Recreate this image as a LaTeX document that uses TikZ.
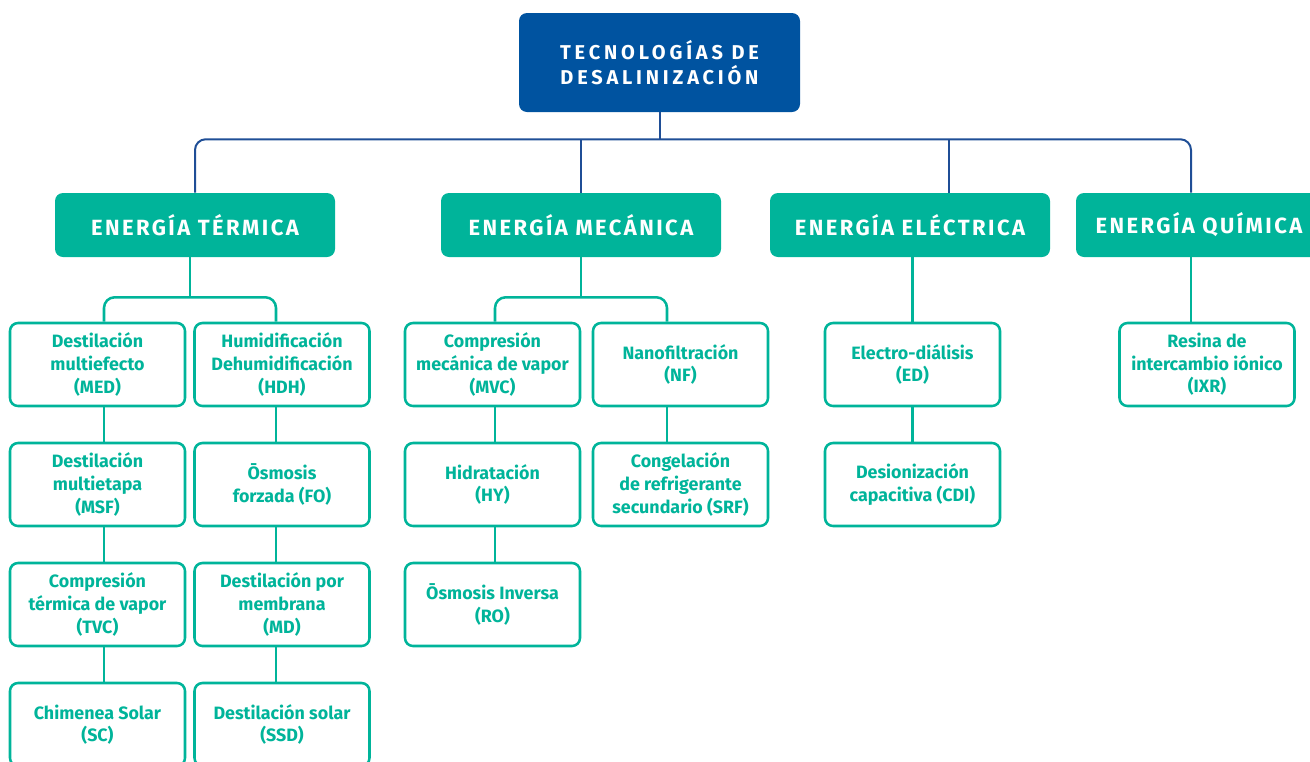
\documentclass[tikz,border=0pt]{standalone}
\usepackage{fontspec}
\setmainfont{Fira Sans}
\usetikzlibrary{calc}

\definecolor{deepblue}{HTML}{0053A0}
\definecolor{busblue}{HTML}{1F4E96}
\definecolor{seagreen}{HTML}{00B49A}

\tikzset{
  rootbox/.style={fill=deepblue, rounded corners=6pt, minimum width=210.75pt, minimum height=74.25pt,
    text=white, align=center, font=\bfseries\fontsize{15}{18.5}\selectfont\addfontfeatures{LetterSpace=19}},
  energybox/.style={fill=seagreen, rounded corners=6pt, minimum width=210pt, minimum height=48pt,
    text=white, font=\bfseries\fontsize{16.5}{18}\selectfont\addfontfeatures{LetterSpace=11}},
  techbox/.style={draw=seagreen, line width=1.9pt, fill=white, rounded corners=6pt,
    minimum width=131.25pt, minimum height=62.25pt, inner sep=2pt,
    text=seagreen, align=center, font=\bfseries\fontsize{13.4}{17}\selectfont},
  busline/.style={draw=busblue, line width=1.5pt},
  branch/.style={draw=seagreen, line width=1.9pt}
}

\begin{document}
\begin{tikzpicture}[x=0.75pt, y=-0.75pt]
\useasboundingbox (0,0) rectangle (1310,761);
\clip (0,0) rectangle (1310,761);

% Top of the tree
\node[rootbox] (root) at (659.5,62.5) {TECNOLOGÍAS DE\\DESALINIZACIÓN};

% Energy groups
\node[energybox] (ter) at (195,225) {ENERGÍA TÉRMICA};
\node[energybox] (mec) at (581,225) {ENERGÍA MECÁNICA};
\node[energybox] (ele) at (910,225) {ENERGÍA ELÉCTRICA};
\node[energybox, minimum width=184.5pt] (qui) at (1199,225) {ENERGÍA QUÍMICA};

% Thermal technologies
\node[techbox] (med) at (97.5,364.5) {Destilación\\multiefecto\\(MED)};
\node[techbox] (msf) at (97.5,484.5) {Destilación\\multietapa\\(MSF)};
\node[techbox] (tvc) at (97.5,604.5) {Compresión\\térmica de vapor\\(TVC)};
\node[techbox] (sc) at (97.5,724.5) {Chimenea Solar\\(SC)};
\node[techbox] (hdh) at (282,364.5) {Humidificación\\Dehumidificación\\(HDH)};
\node[techbox] (fo) at (282,484.5) {Ōsmosis\\forzada (FO)};
\node[techbox] (md) at (282,604.5) {Destilación por\\membrana\\(MD)};
\node[techbox] (ssd) at (282,724.5) {Destilación solar\\(SSD)};

% Mechanical technologies
\node[techbox] (mvc) at (492.5,364.5) {Compresión\\mecánica de vapor\\(MVC)};
\node[techbox] (hy) at (492.5,484.5) {Hidratación\\(HY)};
\node[techbox] (ro) at (492.5,604.5) {Ōsmosis Inversa\\(RO)};
\node[techbox] (nf) at (680.5,364.5) {Nanofiltración\\(NF)};
\node[techbox] (srf) at (680.5,484.5) {Congelación\\de refrigerante\\secundario (SRF)};

% Electrical and chemical technologies
\node[techbox] (ed) at (912.5,364.5) {Electro-diálisis\\(ED)};
\node[techbox] (cdi) at (912.5,484.5) {Desionización\\capacitiva (CDI)};
\node[techbox] (ixr) at (1207,364.5) {Resina de\\intercambio iónico\\(IXR)};

% Blue bus under the root
\coordinate (busmid) at ([shift={(0,27)}]root.south);
\draw[busline] (root.south) -- (busmid);
\draw[busline, rounded corners=8pt] (ter.north) |- (busmid) -| ([shift={(-8,0)}]qui.north);
\draw[busline] (mec.north) -- (mec.north |- busmid);
\draw[busline] ([shift={(39,0)}]ele.north) -- ([shift={(39,0)}]ele.north |- busmid);

% Forks under the groups
\coordinate (terfork) at ([shift={(-5,40)}]ter.south);
\draw[branch] ([shift={(-5,0)}]ter.south) -- (terfork);
\draw[branch, rounded corners=8pt] ([shift={(6.5,0)}]med.north) |- (terfork) -| ([shift={(-6,0)}]hdh.north);
\coordinate (mecfork) at ([shift={(0,40)}]mec.south);
\draw[branch] (mec.south) -- (mecfork);
\draw[branch, rounded corners=8pt] ([shift={(2.5,0)}]mvc.north) |- (mecfork) -| ([shift={(-13.5,0)}]nf.north);
\draw[branch] (ed.north |- ele.south) -- (ed.north);
\draw[branch] ([shift={(-8,0)}]qui.south) -- ([shift={(-8,0)}]qui.south |- ixr.north);

% Chains down each column
\foreach \a/\b/\dx in {med/msf/6.5, msf/tvc/6.5, tvc/sc/6.5, hdh/fo/-6, fo/md/-6, md/ssd/-6,
                       mvc/hy/2.5, hy/ro/2.5, nf/srf/-13.5, ed/cdi/0}
  \draw[branch] ([shift={(\dx,0)}]\a.south) -- ([shift={(\dx,0)}]\b.north);
\end{tikzpicture}
\end{document}
